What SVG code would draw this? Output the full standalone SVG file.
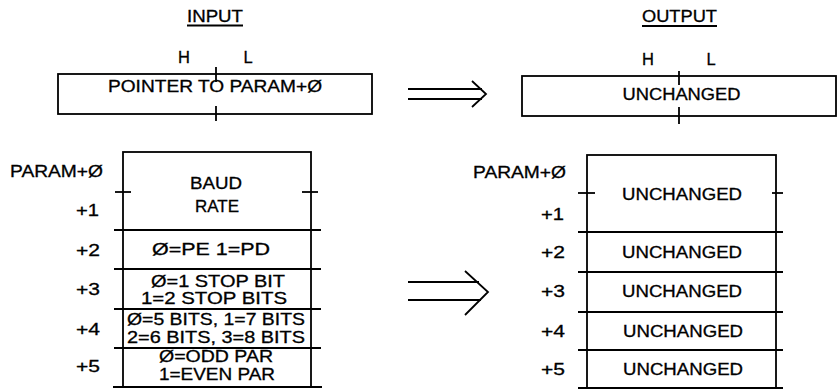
<svg xmlns="http://www.w3.org/2000/svg" width="838" height="390" viewBox="0 0 838 390">
<style>
  text { font-family: "Liberation Sans", Arial, sans-serif; font-size: 16.5px; fill: #000; stroke: #000; stroke-width: 0.3; }
  .c { text-anchor: middle; }
  .r { text-anchor: end; }
  .ln { stroke: #000; stroke-width: 1.8; fill: none; }
  .box { stroke: #000; stroke-width: 1.8; fill: #fff; }
</style>
<rect width="838" height="390" fill="#fff"/>

<g id="title-input">
  <text class="c" x="215" y="22" textLength="56" lengthAdjust="spacingAndGlyphs">INPUT</text>
  <line class="ln" x1="187" y1="25.5" x2="243" y2="25.5" stroke-width="1.4"/>
</g>
<g id="title-output">
  <text class="c" x="679.5" y="22" textLength="75" lengthAdjust="spacingAndGlyphs">OUTPUT</text>
  <line class="ln" x1="642" y1="26" x2="717" y2="26" stroke-width="1.4"/>
</g>

<g id="input-pointer">
  <text class="c" x="184" y="63">H</text>
  <text class="c" x="248" y="63">L</text>
  <rect class="box" x="58" y="74" width="314" height="40"/>
  <line class="ln" x1="216" y1="67" x2="216" y2="82"/>
  <line class="ln" x1="216" y1="106" x2="216" y2="121"/>
  <text class="c" x="215" y="92" textLength="214" lengthAdjust="spacingAndGlyphs">POINTER TO PARAM+Ø</text>
</g>

<g id="output-pointer">
  <text class="c" x="648" y="65">H</text>
  <text class="c" x="711" y="65">L</text>
  <rect class="box" x="522" y="76" width="314" height="40"/>
  <line class="ln" x1="679" y1="71" x2="679" y2="85"/>
  <line class="ln" x1="679" y1="107" x2="679" y2="124"/>
  <text class="c" x="681.5" y="100" textLength="118" lengthAdjust="spacingAndGlyphs">UNCHANGED</text>
</g>

<g id="input-labels">
  <text class="r" x="103" y="177" textLength="93" lengthAdjust="spacingAndGlyphs">PARAM+Ø</text>
  <text class="r" x="99" y="216" textLength="23" lengthAdjust="spacingAndGlyphs">+1</text>
  <text class="r" x="100" y="256" textLength="24" lengthAdjust="spacingAndGlyphs">+2</text>
  <text class="r" x="100" y="295" textLength="24" lengthAdjust="spacingAndGlyphs">+3</text>
  <text class="r" x="100" y="335" textLength="24" lengthAdjust="spacingAndGlyphs">+4</text>
  <text class="r" x="100" y="372" textLength="24" lengthAdjust="spacingAndGlyphs">+5</text>
</g>

<g id="input-table">
  <rect class="box" x="123" y="152" width="188" height="235"/>
  <line class="ln" x1="115" y1="192" x2="131" y2="192"/>
  <line class="ln" x1="302" y1="192" x2="318" y2="192"/>
  <line class="ln" x1="114" y1="230" x2="321" y2="230"/>
  <line class="ln" x1="114" y1="269" x2="321" y2="269"/>
  <line class="ln" x1="114" y1="309" x2="321" y2="309"/>
  <line class="ln" x1="114" y1="348" x2="321" y2="348"/>
  <line class="ln" x1="113" y1="387" x2="322" y2="387"/>
  <g id="cell-baud">
    <text class="c" x="216" y="189" textLength="52" lengthAdjust="spacingAndGlyphs">BAUD</text>
    <text class="c" x="217" y="212" textLength="44" lengthAdjust="spacingAndGlyphs">RATE</text>
  </g>
  <g id="cell-parity-enable">
    <text class="c" x="211" y="255" textLength="118" lengthAdjust="spacingAndGlyphs">Ø=PE 1=PD</text>
  </g>
  <g id="cell-stop">
    <text class="c" x="218" y="287" textLength="134" lengthAdjust="spacingAndGlyphs">Ø=1 STOP BIT</text>
    <text class="c" x="214" y="304" textLength="146" lengthAdjust="spacingAndGlyphs">1=2 STOP BITS</text>
  </g>
  <g id="cell-bits">
    <text class="c" x="216" y="325" textLength="178" lengthAdjust="spacingAndGlyphs">Ø=5 BITS, 1=7 BITS</text>
    <text class="c" x="216" y="343" textLength="178" lengthAdjust="spacingAndGlyphs">2=6 BITS, 3=8 BITS</text>
  </g>
  <g id="cell-parity">
    <text class="c" x="216" y="362" textLength="114" lengthAdjust="spacingAndGlyphs">Ø=ODD PAR</text>
    <text class="c" x="217" y="380" textLength="116" lengthAdjust="spacingAndGlyphs">1=EVEN PAR</text>
  </g>
</g>

<g id="output-labels">
  <text class="r" x="566" y="178" textLength="93" lengthAdjust="spacingAndGlyphs">PARAM+Ø</text>
  <text class="r" x="564" y="220" textLength="23" lengthAdjust="spacingAndGlyphs">+1</text>
  <text class="r" x="565" y="258" textLength="24" lengthAdjust="spacingAndGlyphs">+2</text>
  <text class="r" x="565" y="297" textLength="24" lengthAdjust="spacingAndGlyphs">+3</text>
  <text class="r" x="565" y="337" textLength="24" lengthAdjust="spacingAndGlyphs">+4</text>
  <text class="r" x="565" y="375" textLength="24" lengthAdjust="spacingAndGlyphs">+5</text>
</g>

<g id="output-table">
  <rect class="box" x="587" y="155" width="189" height="233"/>
  <line class="ln" x1="578" y1="193" x2="595" y2="193"/>
  <line class="ln" x1="772" y1="193" x2="783" y2="193"/>
  <line class="ln" x1="578" y1="232" x2="783" y2="232"/>
  <line class="ln" x1="578" y1="272" x2="783" y2="272"/>
  <line class="ln" x1="578" y1="312" x2="783" y2="312"/>
  <line class="ln" x1="578" y1="350" x2="783" y2="350"/>
  <line class="ln" x1="578" y1="388" x2="783" y2="388"/>
  <text class="c" x="682" y="200" textLength="120" lengthAdjust="spacingAndGlyphs">UNCHANGED</text>
  <text class="c" x="682" y="258" textLength="120" lengthAdjust="spacingAndGlyphs">UNCHANGED</text>
  <text class="c" x="682" y="297" textLength="120" lengthAdjust="spacingAndGlyphs">UNCHANGED</text>
  <text class="c" x="683" y="337" textLength="120" lengthAdjust="spacingAndGlyphs">UNCHANGED</text>
  <text class="c" x="683" y="375" textLength="120" lengthAdjust="spacingAndGlyphs">UNCHANGED</text>
</g>

<g id="connectors">
  <g id="arrow-top">
    <line class="ln" x1="408" y1="89" x2="482" y2="89"/>
    <line class="ln" x1="408" y1="99" x2="482" y2="99"/>
    <polyline class="ln" points="472,81 486,94 472,107"/>
  </g>
  <g id="arrow-table">
    <line class="ln" x1="408" y1="282" x2="479" y2="282"/>
    <line class="ln" x1="408" y1="300" x2="481" y2="300"/>
    <polyline class="ln" points="465,271 488,292 465,315"/>
  </g>
</g>
</svg>
